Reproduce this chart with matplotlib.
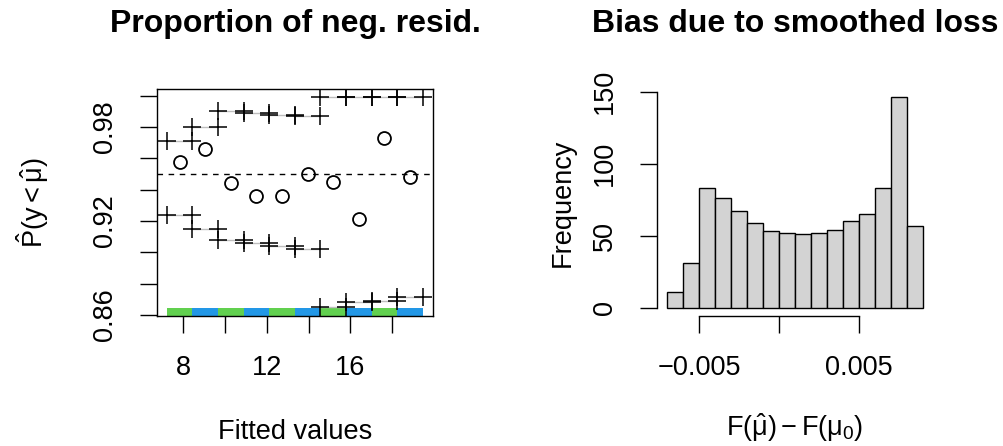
import numpy as np
import matplotlib
matplotlib.use("Agg")
import matplotlib.pyplot as plt
from matplotlib.patches import Rectangle
import matplotlib.transforms as mtransforms

plt.rcParams['font.family'] = ['Liberation Sans', 'DejaVu Sans']
plt.rcParams['mathtext.fontset'] = 'custom'
plt.rcParams['mathtext.rm'] = 'Liberation Sans'
plt.rcParams['mathtext.it'] = 'Liberation Sans'
plt.rcParams['mathtext.bf'] = 'Liberation Sans:bold'

# ---------------- data ----------------
bin_edges = [7.22, 8.44, 9.67, 10.89, 12.11, 13.34, 14.56, 15.78, 17.01, 18.23, 19.46]
upper_band = [0.971, 0.980, 0.990, 0.989, 0.988, 0.987, 0.9995, 0.9995, 0.9995, 0.9995]
lower_band = [0.924, 0.915, 0.908, 0.906, 0.904, 0.902, 0.865, 0.8685, 0.869, 0.8715]
prop_neg = [0.958, 0.966, 0.944, 0.936, 0.936, 0.950, 0.945, 0.921, 0.973, 0.948]
target_level = 0.95
strip_colors = ['#61D04F', '#2297E6'] * 5

x_ticks = [8, 10, 12, 14, 16, 18]
x_ticklabels = ['8', '', '12', '', '16', '']
y_ticks = [0.86, 0.88, 0.90, 0.92, 0.94, 0.96, 0.98, 1.00]
y_ticklabels = ['0.86', '', '', '0.92', '', '', '0.98', '']

hist_edges = [-0.007, -0.006, -0.005, -0.004, -0.003, -0.002, -0.001, 0.0,
              0.001, 0.002, 0.003, 0.004, 0.005, 0.006, 0.007, 0.008, 0.009]
hist_counts = [11, 31, 83, 76, 67, 59, 53, 52, 51, 52, 54, 60, 65, 83, 146, 57]
h_xticks = [-0.005, 0.0, 0.005]
h_xticklabels = ['\u22120.005', '', '0.005']
h_yticks = [0, 50, 100, 150]
h_yticklabels = ['0', '50', '100', '150']

# ---------------- figure ----------------
W, H = 1004, 446
fig = plt.figure(figsize=(W / 100, H / 100), dpi=100)
FS = 19.5
ax1 = fig.add_axes([157 / W, (H - 316) / H, 276 / W, 227 / H])
ax2 = fig.add_axes([657 / W, (H - 316) / H, 276 / W, 227 / H])

# ---- left panel ----
edges = np.array(bin_edges)
mids = (edges[:-1] + edges[1:]) / 2
trans = mtransforms.blended_transform_factory(ax1.transData, ax1.transAxes)
for i in range(len(prop_neg)):
    ax1.add_patch(Rectangle((edges[i], 0), edges[i + 1] - edges[i], 0.034,
                            transform=trans, facecolor=strip_colors[i],
                            edgecolor='none', zorder=1))
for band in (upper_band, lower_band):
    for i in range(len(band)):
        ax1.plot([edges[i], edges[i + 1]], [band[i], band[i]], color='#BEBEBE',
                 lw=1.0, zorder=2, solid_capstyle='butt')
        ax1.plot([edges[i], edges[i + 1]], [band[i], band[i]], ls='none',
                 marker='+', ms=12.5, mew=1.1, color='black', zorder=3)
ax1.plot(mids, prop_neg, ls='none', marker='o', ms=9.3, mfc='none', mec='black',
         mew=1.3, zorder=3)
ax1.axhline(target_level, color='black', lw=1.0, ls=(0, (4, 4)), zorder=2)

ax1.set_xlim(6.75, 19.95)
ax1.set_ylim(0.8594, 1.0043)
ax1.set_xticks(x_ticks)
ax1.set_xticklabels(x_ticklabels)
ax1.set_yticks(y_ticks)
ax1.set_yticklabels(y_ticklabels, rotation=90, va='center')
ax1.tick_params(direction='out', length=12, width=1.0, labelsize=FS, pad=16)
for s in ax1.spines.values():
    s.set_linewidth(1.0)

# ---- right panel ----
he = np.array(hist_edges)
ax2.bar(he[:-1], hist_counts, width=np.diff(he), align='edge', color='#D3D3D3',
        edgecolor='black', linewidth=1.0)
ax2.set_xlim(-0.00764, 0.00964)
ax2.set_ylim(-5.84, 151.84)
ax2.spines['top'].set_visible(False)
ax2.spines['right'].set_visible(False)
ax2.spines['left'].set_bounds(0, 150)
ax2.spines['bottom'].set_bounds(-0.005, 0.005)
for s in ax2.spines.values():
    s.set_linewidth(1.0)
ax2.set_xticks(h_xticks)
ax2.set_xticklabels(h_xticklabels)
ax2.set_yticks(h_yticks)
ax2.set_yticklabels(h_yticklabels, rotation=90, va='center')
ax2.tick_params(direction='out', length=12, width=1.0, labelsize=FS, pad=16)

# ---- text ----
fig.text(295 / W, 1 - 32 / H, 'Proportion of neg. resid.', ha='center',
         va='baseline', fontsize=23, fontweight='bold')
fig.text(795 / W, 1 - 32 / H, 'Bias due to smoothed loss', ha='center',
         va='baseline', fontsize=23, fontweight='bold')
fig.text(295 / W, 1 - 439 / H, 'Fitted values', ha='center', va='baseline',
         fontsize=FS)
fig.text(795 / W, 1 - 428 / H, r'$\mathrm{F}(\hat{\mu}) - \mathrm{F}(\mu_0)$',
         ha='center', va='center', fontsize=FS)
fig.text(33 / W, 1 - 202.5 / H, r'$\hat{\mathrm{P}}(\mathrm{y} < \hat{\mu})$',
         ha='center', va='center', rotation=90, fontsize=FS)
fig.text(563 / W, 1 - 202.5 / H, 'Frequency', ha='center', va='center',
         rotation=90, fontsize=FS)

fig.savefig('out.png', dpi=100)
